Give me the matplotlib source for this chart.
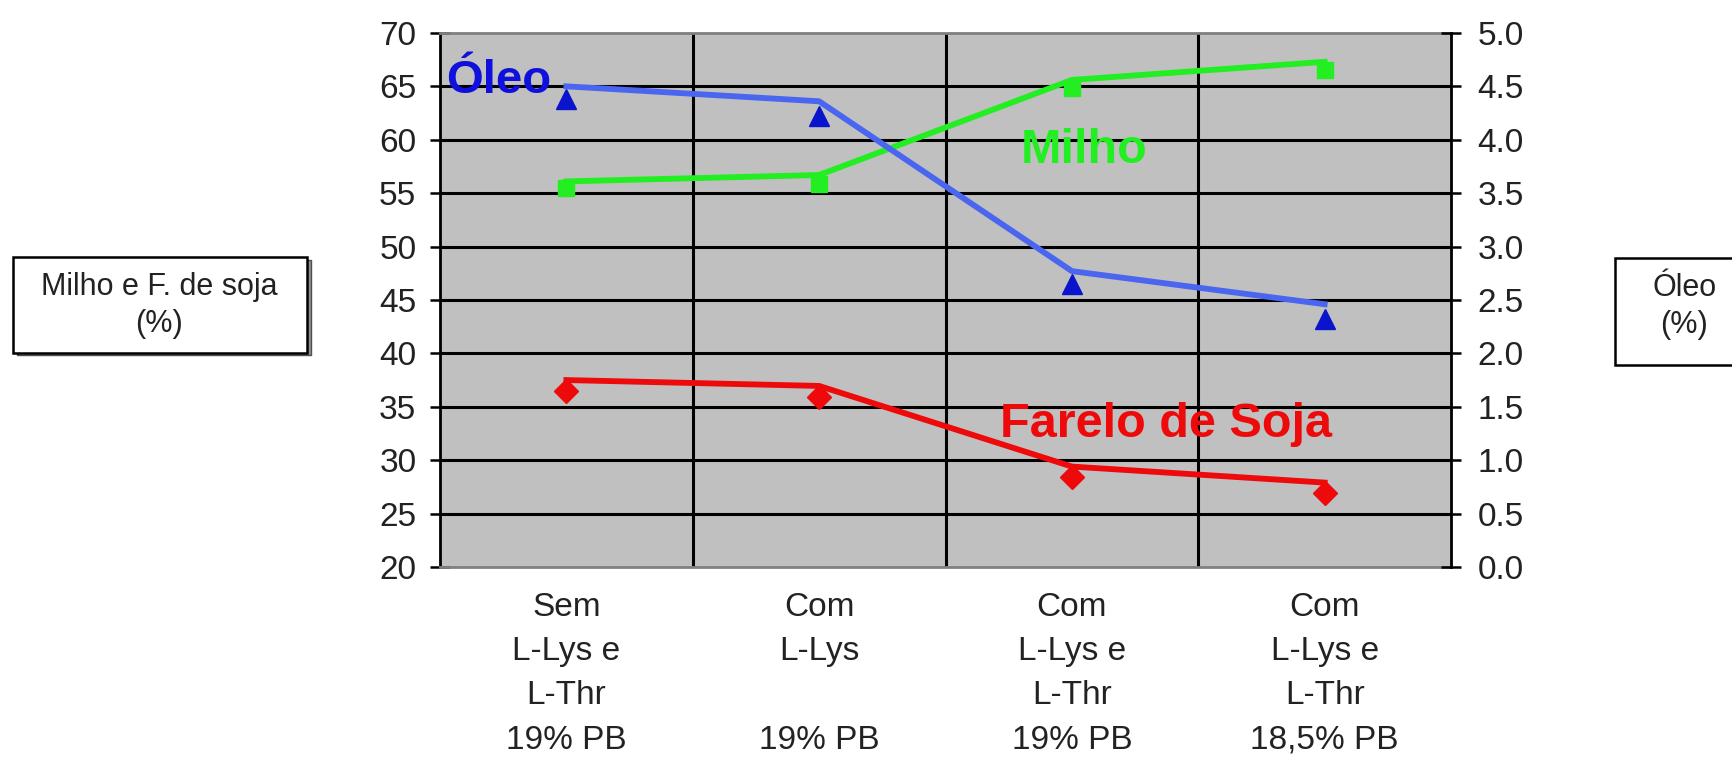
import matplotlib
matplotlib.use("Agg")
import matplotlib.pyplot as plt
from matplotlib.patches import Rectangle
from matplotlib.ticker import FormatStrFormatter

plt.rcParams["font.family"] = ["Liberation Sans", "DejaVu Sans"]

categories = [
    "Sem\nL-Lys e\nL-Thr\n19% PB",
    "Com\nL-Lys\n\n19% PB",
    "Com\nL-Lys e\nL-Thr\n19% PB",
    "Com\nL-Lys e\nL-Thr\n18,5% PB",
]
left_ticks = [20, 25, 30, 35, 40, 45, 50, 55, 60, 65, 70]
right_ticks = [0.0, 0.5, 1.0, 1.5, 2.0, 2.5, 3.0, 3.5, 4.0, 4.5, 5.0]

# marker values (as plotted points)
milho_pts = [55.5, 55.9, 64.8, 66.5]
farelo_pts = [36.5, 35.9, 28.45, 26.9]
oleo_pts = [4.38, 4.22, 2.65, 2.32]

# trend lines as drawn over the points
milho_line = [56.1, 56.7, 65.6, 67.3]
farelo_line = [37.5, 36.95, 29.4, 27.9]
oleo_line = [4.50, 4.36, 2.77, 2.46]

GREEN = "#22ee22"
RED = "#ee0a0a"
BLUE_LINE = "#4a66f0"
BLUE_MARK = "#0a14cc"

fig = plt.figure(figsize=(17.33, 7.59), dpi=100)
ax = fig.add_axes([0.2539, 0.2530, 0.5834, 0.7036])
ax2 = ax.twinx()

x = list(range(len(categories)))
ax.set_xlim(-0.5, 3.5)
ax.set_ylim(left_ticks[0], left_ticks[-1])
ax2.set_ylim(right_ticks[0], right_ticks[-1])
ax.set_facecolor("#c0c0c0")

# grid
for v in left_ticks[1:-1]:
    ax.axhline(v, color="black", lw=2.2, zorder=1)
for b in [0.5, 1.5, 2.5]:
    ax.axvline(b, color="black", lw=2.2, zorder=1)

# series
ax.plot(x, milho_pts, ls="none", marker="s", ms=12, color=GREEN, zorder=3)
ax.plot(x, milho_line, color=GREEN, lw=4.2, zorder=4)
ax.plot(x, farelo_pts, ls="none", marker="D", ms=12, color=RED, zorder=3)
ax.plot(x, farelo_line, color=RED, lw=4.2, zorder=4)
ax2.plot(x, oleo_pts, ls="none", marker="^", ms=15, color=BLUE_MARK, zorder=3)
ax2.plot(x, oleo_line, color=BLUE_LINE, lw=4.2, zorder=4)

# series labels
ax.text(-0.475, 64.4, "Óleo", color="#1010dd", fontsize=34, fontweight="bold",
        ha="left", va="baseline", zorder=5)
ax.text(2.05, 57.8, "Milho", color=GREEN, fontsize=35, fontweight="bold",
        ha="center", va="baseline", zorder=5)
ax.text(1.716, 32.2, "Farelo de Soja", color=RED, fontsize=35, fontweight="bold",
        ha="left", va="baseline", zorder=5)

# axes and ticks
ax.set_xticks(x, categories, linespacing=1.55)
ax.tick_params(axis="x", length=0, pad=18, labelsize=24, labelcolor="#222222")

ax.set_yticks(left_ticks)
ax.tick_params(axis="y", direction="inout", length=14, width=1.8, pad=10,
               labelsize=24, labelcolor="#222222")
ax2.set_yticks(right_ticks)
ax2.yaxis.set_major_formatter(FormatStrFormatter("%.1f"))
ax2.tick_params(axis="y", direction="inout", length=14, width=1.8, pad=12,
                labelsize=24, labelcolor="#222222")

ax.spines["left"].set_color("black")
ax.spines["left"].set_linewidth(2.0)
ax.spines["right"].set_visible(False)
for s in ["top", "bottom"]:
    ax.spines[s].set_color("#808080")
    ax.spines[s].set_linewidth(2.0)
for s in ["top", "bottom", "left"]:
    ax2.spines[s].set_visible(False)
ax2.spines["right"].set_color("black")
ax2.spines["right"].set_linewidth(2.0)

# axis title boxes
fig.add_artist(Rectangle((0.0098, 0.532), 0.1695, 0.126, transform=fig.transFigure,
                         facecolor="#909090", edgecolor="#505050", lw=1.0))
fig.add_artist(Rectangle((0.0075, 0.535), 0.1695, 0.126, transform=fig.transFigure,
                         facecolor="white", edgecolor="black", lw=1.8))
fig.text(0.092, 0.598, "Milho e F. de soja\n(%)", ha="center", va="center",
         fontsize=22, linespacing=1.3, color="#222222")

fig.add_artist(Rectangle((0.932, 0.519), 0.1, 0.141, transform=fig.transFigure,
                         facecolor="white", edgecolor="black", lw=1.8))
fig.text(0.972, 0.596, "Óleo\n(%)", ha="center", va="center",
         fontsize=22, linespacing=1.3, color="#222222")

fig.savefig("out.png", dpi=100)
